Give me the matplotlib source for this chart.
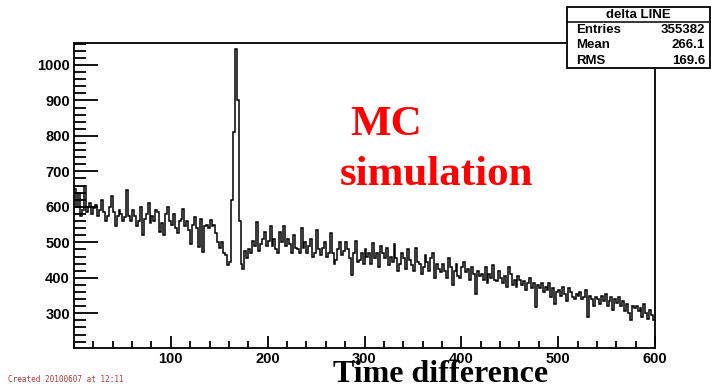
import numpy as np
import matplotlib
matplotlib.use("Agg")
import matplotlib.pyplot as plt
from matplotlib.patches import Rectangle
from matplotlib.ticker import MultipleLocator

# ==============================================================================
# DATA (2-unit bins from 0 to 600)
# ==============================================================================
BIN_WIDTH = 2
X_MIN, X_MAX = 0, 600

counts_000_100 = [
    650, 600, 640, 575, 590, 660, 585, 600, 612, 580,
    598, 605, 575, 590, 620, 585, 560, 575, 600, 630,
    585, 545, 575, 590, 580, 560, 570, 648, 575, 560,
    590, 575, 545, 560, 600, 520, 565, 580, 610, 555,
    575, 560, 590, 585, 530, 555, 520, 580, 600, 560,
]
counts_100_200 = [
    550, 580, 540, 525, 560, 565, 595, 545, 560, 535,
    495, 550, 570, 540, 488, 565, 473, 545, 550, 540,
    562, 545, 550, 525, 500, 485, 500, 470, 465, 435,
    445, 620, 810, 1045, 900, 560, 440, 425, 475, 455,
    480, 470, 505, 490, 558, 475, 495, 510, 530, 490,
]
counts_200_300 = [
    505, 545, 490, 510, 480, 470, 530, 500, 545, 490,
    510, 495, 470, 520, 485, 480, 470, 540, 485, 500,
    470, 490, 510, 460, 470, 535, 480, 465, 485, 500,
    460, 470, 525, 470, 440, 450, 480, 500, 465, 475,
    500, 480, 455, 407, 470, 505, 445, 450, 470, 440,
]
counts_300_400 = [
    480, 460, 470, 440, 497, 455, 470, 430, 490, 470,
    455, 485, 435, 460, 445, 495, 455, 420, 440, 470,
    455, 425, 480, 450, 435, 420, 485, 445, 440, 410,
    430, 465, 445, 420, 455, 470, 400, 440, 425, 415,
    440, 420, 400, 455, 430, 380, 420, 440, 405, 400,
]
counts_400_500 = [
    430, 445, 415, 425, 395, 430, 410, 355, 420, 405,
    410, 395, 430, 385, 410, 400, 435, 395, 390, 420,
    400, 385, 405, 375, 430, 410, 380, 395, 375, 405,
    395, 380, 390, 365, 385, 400, 370, 385, 318, 380,
    370, 385, 360, 375, 365, 385, 345, 370, 325, 360,
]
counts_500_600 = [
    365, 350, 375, 355, 335, 370, 360, 345, 340, 355,
    350, 360, 340, 345, 365, 290, 350, 340, 320, 345,
    340, 325, 350, 335, 355, 320, 335, 345, 310, 340,
    330, 345, 320, 335, 305, 325, 300, 282, 320, 315,
    320, 305, 315, 290, 325, 300, 285, 310, 295, 282,
]

stats_title = "delta LINE"
stats_names = ["Entries", "Mean", "RMS"]
stats_values = ["355382", "266.1", "169.6"]

x_ticks = [100, 200, 300, 400, 500, 600]
y_ticks = [300, 400, 500, 600, 700, 800, 900, 1000]

OUT_FILE = "out.png"
SANS = ["Liberation Sans", "DejaVu Sans"]
SERIF = ["Liberation Serif", "DejaVu Serif"]


def draw():
    counts = np.array(counts_000_100 + counts_100_200 + counts_200_300
                      + counts_300_400 + counts_400_500 + counts_500_600, dtype=float)
    edges = np.arange(X_MIN, X_MAX + BIN_WIDTH, BIN_WIDTH)

    fig = plt.figure(figsize=(7.11, 3.86), dpi=100)
    ax = fig.add_axes([74 / 711, 1 - 348 / 386, 581 / 711, 305 / 386])

    ax.stairs(counts, edges, color="black", linewidth=1.1, baseline=None)
    ax.set_xlim(X_MIN, X_MAX)
    ax.set_ylim(202, 1062)

    ax.set_xticks(x_ticks)
    ax.set_yticks(y_ticks)
    ax.xaxis.set_minor_locator(MultipleLocator(20))
    ax.yaxis.set_minor_locator(MultipleLocator(20))
    ax.tick_params(axis="both", which="both", direction="in", width=1.3)
    ax.tick_params(axis="y", which="major", length=17, pad=3)
    ax.tick_params(axis="y", which="minor", length=8.5)
    ax.tick_params(axis="x", which="major", length=9, pad=3)
    ax.tick_params(axis="x", which="minor", length=5)
    ax.tick_params(top=False, right=False, which="both")
    for lbl in ax.get_xticklabels() + ax.get_yticklabels():
        lbl.set_fontfamily(SANS)
        lbl.set_fontweight("bold")
        lbl.set_fontsize(10.5)
    for sp in ax.spines.values():
        sp.set_linewidth(1.3)

    # annotation text
    fig.text(350 / 711, 1 - 135 / 386, "MC", color="red", family=SERIF,
             fontweight="bold", fontsize=31, ha="left", va="baseline")
    fig.text(340 / 711, 1 - 185 / 386, "simulation", color="red", family=SERIF,
             fontweight="bold", fontsize=31, ha="left", va="baseline")
    fig.text(333 / 711, 1 - 381.5 / 386, "Time difference", color="black", family=SERIF,
             fontweight="bold", fontsize=23, ha="left", va="baseline")
    fig.text(8 / 711, 1 - 382 / 386, "Created 20100607 at 12:11", color="#b03a3a",
             family="DejaVu Sans Mono", fontsize=5.5, ha="left", va="baseline")

    # stats box (ROOT style)
    bx0, by0, bx1, by1 = 567, 7, 710, 68
    fig.patches.append(Rectangle((bx0 / 711, 1 - by1 / 386), (bx1 - bx0) / 711, (by1 - by0) / 386,
                                 transform=fig.transFigure, facecolor="white",
                                 edgecolor="black", linewidth=1.3, zorder=5))
    fig.add_artist(plt.Line2D([bx0 / 711, bx1 / 711], [1 - 22 / 386, 1 - 22 / 386],
                              transform=fig.transFigure, color="black", linewidth=1.1, zorder=6))
    fig.text((bx0 + bx1) / 2 / 711, 1 - 15 / 386, stats_title, family=SANS, fontweight="bold",
             fontsize=9.5, ha="center", va="center", zorder=7)
    for i, (name, val) in enumerate(zip(stats_names, stats_values)):
        yy = 1 - (30 + 15.3 * i) / 386
        fig.text(576 / 711, yy, name, family=SANS, fontweight="bold", fontsize=9.5,
                 ha="left", va="center", zorder=7)
        fig.text(705 / 711, yy, val, family=SANS, fontweight="bold", fontsize=9.5,
                 ha="right", va="center", zorder=7)

    fig.savefig(OUT_FILE, dpi=100)
    plt.close(fig)


if __name__ == "__main__":
    draw()
